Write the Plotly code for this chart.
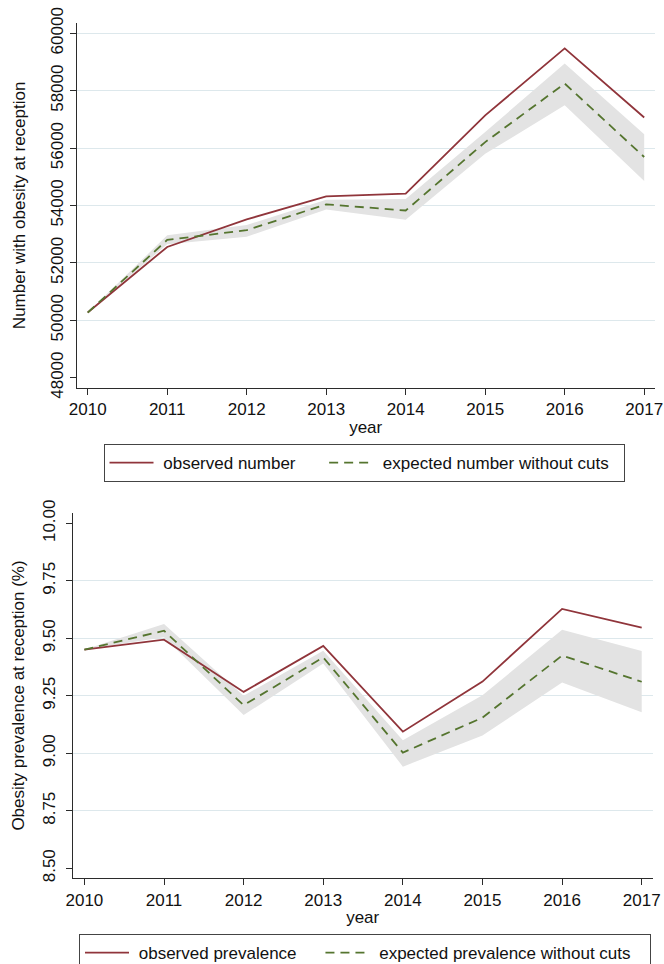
import plotly.graph_objects as go

W, H = 664, 964

years = [2010, 2011, 2012, 2013, 2014, 2015, 2016, 2017]

# Top panel: number with obesity at reception
obs_number = [50270, 52555, 53515, 54320, 54410, 57140, 59475, 57065]
exp_number = [50270, 52800, 53140, 54040, 53825, 56210, 58250, 55690]
exp_number_lo = [50270, 52650, 52910, 53860, 53500, 55800, 57495, 54850]
exp_number_hi = [50270, 52960, 53320, 54200, 54230, 56560, 58950, 56480]

# Bottom panel: obesity prevalence at reception (%)
obs_prev = [9.451, 9.494, 9.267, 9.467, 9.094, 9.312, 9.628, 9.546]
exp_prev = [9.451, 9.533, 9.209, 9.417, 9.003, 9.155, 9.425, 9.311]
exp_prev_lo = [9.451, 9.505, 9.166, 9.391, 8.942, 9.077, 9.308, 9.178]
exp_prev_hi = [9.451, 9.562, 9.250, 9.446, 9.057, 9.252, 9.537, 9.445]

num_ticks = [48000, 50000, 52000, 54000, 56000, 58000, 60000]
num_ticktext = ["48000", "50000", "52000", "54000", "56000", "58000", "60000"]
prev_ticks = [8.50, 8.75, 9.00, 9.25, 9.50, 9.75, 10.00]
prev_ticktext = ["8.50", "8.75", "9.00", "9.25", "9.50", "9.75", "10.00"]
year_ticktext = [str(y) for y in years]

MAROON = "#90353b"
GREEN = "#55752f"
BAND = "#e3e3e3"
GRID = "#dde8ec"
AXIS = "#2b2b2b"
FONT = "Liberation Sans, Arial, sans-serif"
FS = 17
NB = "\u00a0"

fig = go.Figure()

def add_panel(xa, ya, obs, exp, lo, hi, obs_name, exp_name, legend):
    fig.add_trace(go.Scatter(x=years, y=lo, xaxis=xa, yaxis=ya, mode="lines",
                             line=dict(width=0, color=BAND), showlegend=False,
                             hoverinfo="skip"))
    fig.add_trace(go.Scatter(x=years, y=hi, xaxis=xa, yaxis=ya, mode="lines",
                             line=dict(width=0, color=BAND), fill="tonexty",
                             fillcolor=BAND, showlegend=False, hoverinfo="skip"))
    fig.add_trace(go.Scatter(x=years, y=obs, xaxis=xa, yaxis=ya, mode="lines",
                             line=dict(color=MAROON, width=1.8), name=obs_name,
                             legend=legend))
    fig.add_trace(go.Scatter(x=years, y=exp, xaxis=xa, yaxis=ya, mode="lines",
                             line=dict(color=GREEN, width=1.8, dash="9px,6px"),
                             name=exp_name, legend=legend))

add_panel("x", "y", obs_number, exp_number, exp_number_lo, exp_number_hi,
          NB + "observed number" + NB * 5, NB + "expected number without cuts" + NB * 2,
          "legend")
add_panel("x2", "y2", obs_prev, exp_prev, exp_prev_lo, exp_prev_hi,
          NB + "observed prevalence" + NB * 4,
          NB + "expected prevalence without cuts" + NB * 3,
          "legend2")

def px_x(p):
    return p / W

def px_y(p):
    return 1 - p / H

xcommon = dict(tickmode="array", tickvals=years, ticktext=year_ticktext,
               showgrid=False, zeroline=False, showline=True, linecolor=AXIS,
               linewidth=1, ticks="outside", ticklen=6, tickcolor=AXIS,
               automargin=False,
               tickfont=dict(size=FS, color="#111", family=FONT),
               title=dict(text="year", font=dict(size=FS, color="#111", family=FONT),
                          standoff=2))
ycommon = dict(showgrid=False, zeroline=False, showline=True, linecolor=AXIS,
               linewidth=1, ticks="outside", ticklen=6, tickcolor=AXIS,
               tickangle=-90, automargin=False,
               tickfont=dict(size=FS, color="#111", family=FONT))

legend_common = dict(orientation="h", xanchor="left", yanchor="top",
                     bordercolor="#444", borderwidth=1, bgcolor="white",
                     font=dict(size=FS, color="#111", family=FONT), itemwidth=44,
                     traceorder="normal")

fig.update_layout(
    template="none",
    width=W, height=H,
    margin=dict(l=0, r=0, t=0, b=0, autoexpand=False),
    paper_bgcolor="white", plot_bgcolor="white",
    font=dict(family=FONT, size=FS, color="#111"),
    xaxis=dict(domain=[px_x(76.7), px_x(654.7)],
               range=[2010 - 11 / 79.5, 2017 + 10.5 / 79.5], anchor="y", **xcommon),
    yaxis=dict(domain=[px_y(388), px_y(22.7)],
               range=[48000 - 10.3 / 28.65 * 1000, 60000 + 10.6 / 28.65 * 1000],
               anchor="x", tickmode="array", tickvals=num_ticks, ticktext=num_ticktext,
               minor=dict(tickmode="array", tickvals=num_ticks[1:], showgrid=True,
                          gridcolor=GRID, gridwidth=1, ticks=""),
               title=dict(text="Number with obesity at reception",
                          font=dict(size=FS, color="#111", family=FONT), standoff=17),
               **ycommon),
    xaxis2=dict(domain=[px_x(72.9), px_x(652.5)],
                range=[2010 - 11.5 / 79.67, 2017 + 10.8 / 79.67], anchor="y2", **xcommon),
    yaxis2=dict(domain=[px_y(878.3), px_y(512.7)],
                range=[8.5 - 10 / 229.3, 10.0 + 10.6 / 229.3],
                anchor="x2", tickmode="array", tickvals=prev_ticks, ticktext=prev_ticktext,
                ticklabelstandoff=4,
                minor=dict(tickmode="array", tickvals=prev_ticks[1:-1], showgrid=True,
                           gridcolor=GRID, gridwidth=1, ticks=""),
                title=dict(text="Obesity prevalence at reception (%)",
                           font=dict(size=FS, color="#111", family=FONT), standoff=11),
                **ycommon),
    legend=dict(x=px_x(103.5), y=px_y(444), **legend_common),
    legend2=dict(x=px_x(79), y=px_y(934), **legend_common),
)

fig.write_html(
    "out.html",
    config={"displayModeBar": False},
    post_script="document.body.style.margin='0px';"
                "document.body.style.padding='0px';"
                "document.body.style.overflow='hidden';",
)
